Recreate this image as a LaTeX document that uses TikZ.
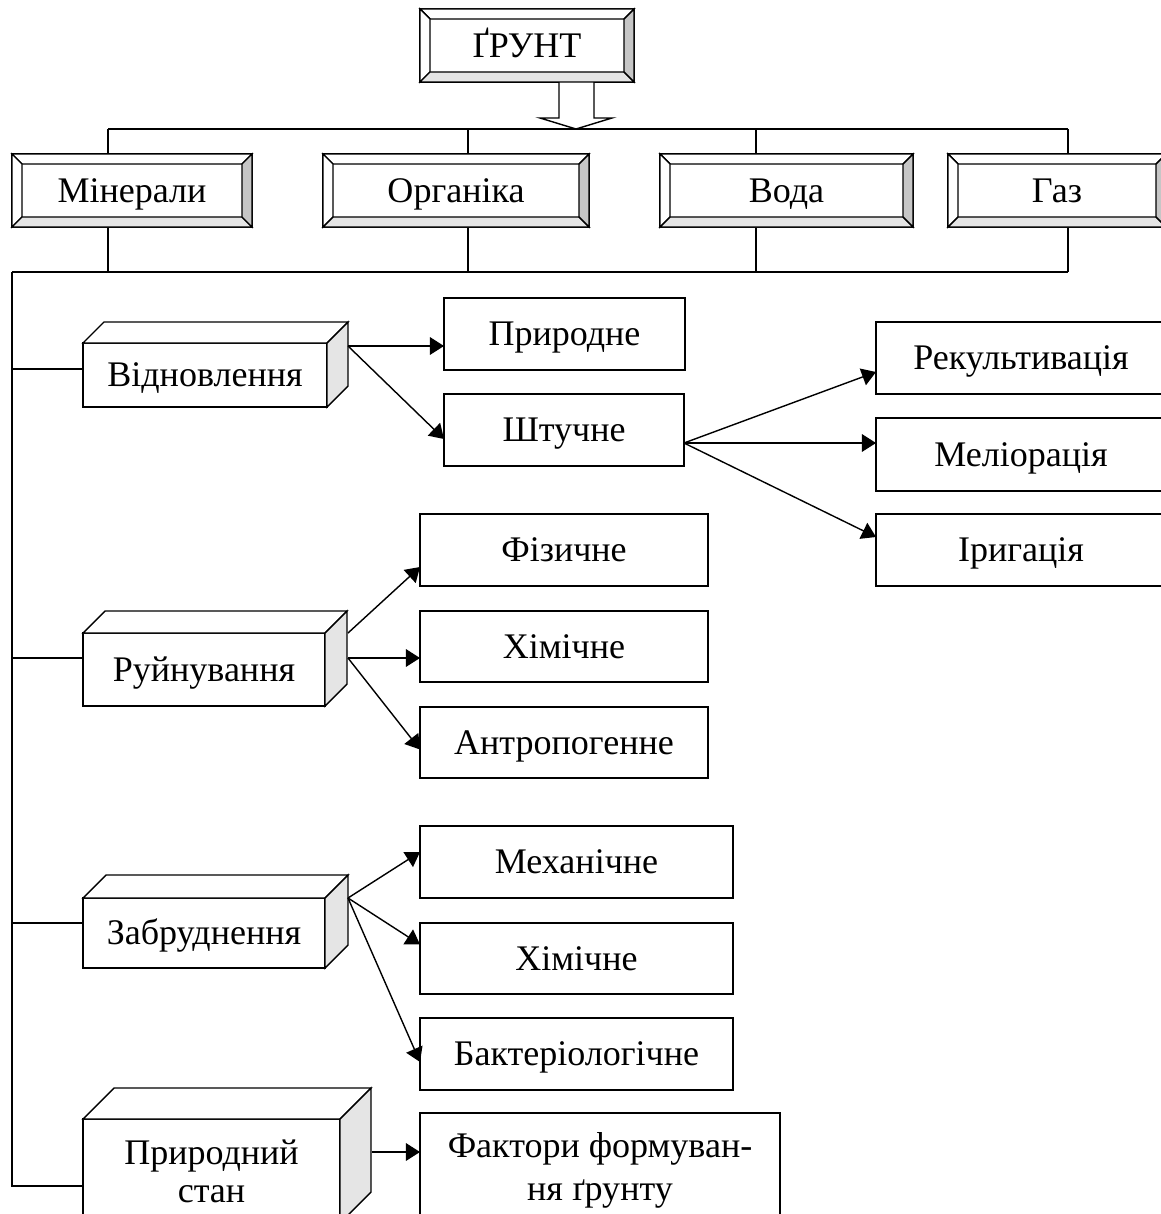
\documentclass[tikz,border=0pt]{standalone}
\usepackage{fontspec}
\setmainfont{Liberation Serif}
\usetikzlibrary{arrows.meta, calc}

\begin{document}
\begin{tikzpicture}[
    x=0.2mm, y=-0.2mm,
    line width=0.8pt,
    every node/.style={font=\fontsize{20.5}{23}\selectfont, inner sep=0pt, outer sep=0pt, align=center},
    box/.style 2 args={draw, fill=white, minimum width=#1*0.2mm, minimum height=#2*0.2mm},
    line1/.style={text height=13.5pt, text depth=0pt},
    arr/.style={-{Triangle[length=8pt, width=10pt]}}
]
\useasboundingbox (0,0) rectangle (1161,1214);
\clip (0,0) rectangle (1161,1214);

% Top: soil and its components (bevelled boxes)
\node[box={214}{73}, line1] (grunt) at (527,45.5) {ҐРУНТ};
\node[box={240}{73}, line1] (min) at (132,190.5) {Мінерали};
\node[box={266}{73}, line1] (org) at (456,190.5) {Органіка};
\node[box={253}{73}, line1] (voda) at (786.5,190.5) {Вода};
\node[box={218}{73}, line1] (gaz) at (1057,190.5) {Газ};

% Processes (3D blocks)
\node[box={244}{64}, line1] (vidn) at (205,375) {Відновлення};
\node[box={242}{73}, line1] (ruin) at (204,669.5) {Руйнування};
\node[box={242}{70}, line1] (zabr) at (204,933) {Забруднення};
\node[box={257}{104}, font=\fontsize{20.5}{21.5}\selectfont] (pryrst) at (211.5,1171) {Природний\\стан};

% Restoration
\node[box={241}{72}, line1] (pryr) at (564.5,334) {Природне};
\node[box={240}{72}, line1] (shtuch) at (564,430) {Штучне};
\node[box={290}{72}, line1] (rekult) at (1021,358) {Рекультивація};
\node[box={290}{73}, line1] (melior) at (1021,454.5) {Меліорація};
\node[box={290}{72}, line1] (iryg) at (1021,550) {Іригація};

% Destruction
\node[box={288}{72}, line1] (fiz) at (564,550) {Фізичне};
\node[box={288}{71}, line1] (khim1) at (564,646.5) {Хімічне};
\node[box={288}{71}, line1] (antrop) at (564,742.5) {Антропогенне};

% Pollution
\node[box={313}{72}, line1] (mekh) at (576.5,862) {Механічне};
\node[box={313}{71}, line1] (khim2) at (576.5,958.5) {Хімічне};
\node[box={313}{72}, line1] (bakt) at (576.5,1054) {Бактеріологічне};

% Natural state
\node[box={360}{114}, font=\fontsize{20.5}{24.5}\selectfont] (faktor) at (600,1170) {Фактори формуван-\\ня ґрунту};

% Buses
\coordinate (top1) at (108,129);
\coordinate (top2) at (468,129);
\coordinate (top3) at (756,129);
\coordinate (top4) at (1068,129);
\coordinate (bot) at (12,272);
\coordinate (corner) at (12,1186);
\draw (top1) -- (top4);
\foreach \t/\n in {top1/min, top2/org, top3/voda, top4/gaz}
    { \draw (\t) -- (\t |- \n.north);
      \draw (\t |- \n.south) -- (\t |- bot); }
\draw (bot) -- (top4 |- bot);
\draw (bot) -- (corner) -- (corner -| pryrst.west);

% Branches off the trunk
\coordinate (j1) at (12,369);
\coordinate (j2) at (12,658);
\coordinate (j3) at (12,923);
\draw (j1) -- (j1 -| vidn.west);
\draw (j2) -- (j2 -| ruin.west);
\draw (j3) -- (j3 -| zabr.west);

% Hollow arrow
\coordinate (tip) at (576,129);
\draw[fill=white] ($(tip |- grunt.south)+(-17,0)$) -- ++(0,36) -- ++(-19,0) -- (tip)
    -- ++(36,-11) -- ++(-18,0) -- ++(0,-36);

% Bevels
\foreach \n in {grunt,min,org,voda,gaz} {
  \draw[fill=white] (\n.north west) -- (\n.north east) -- ($(\n.north east)+(-10,10)$) -- ($(\n.north west)+(10,10)$) -- cycle;
  \draw[fill=white] (\n.north west) -- ($(\n.north west)+(10,10)$) -- ($(\n.south west)+(10,-10)$) -- (\n.south west) -- cycle;
  \draw[fill=gray!20] (\n.south west) -- (\n.south east) -- ($(\n.south east)+(-10,-10)$) -- ($(\n.south west)+(10,-10)$) -- cycle;
  \draw[fill=gray!45] (\n.north east) -- (\n.south east) -- ($(\n.south east)+(-10,-10)$) -- ($(\n.north east)+(-10,10)$) -- cycle;
}

% 3D faces
\foreach \n/\d in {vidn/21, ruin/22, zabr/23, pryrst/31} {
  \draw[fill=white] (\n.north west) -- ++(\d,-\d) -- ($(\n.north east)+(\d,-\d)$) -- (\n.north east) -- cycle;
  \draw[fill=gray!20] (\n.north east) -- ++(\d,-\d) -- ($(\n.south east)+(\d,-\d)$) -- (\n.south east) -- cycle;
}

% Arrows
\coordinate (o1) at (348,346);
\draw[arr] (o1) -- (o1 -| pryr.west);
\draw[arr] (o1) -- ($(shtuch.west)+(0,9)$);
\coordinate (o5) at ($(shtuch.east)+(0,13)$);
\draw[arr] (o5) -- ($(rekult.west)+(0,14)$);
\draw[arr] (o5) -- (o5 -| melior.west);
\draw[arr] (o5) -- ($(iryg.west)+(0,-13)$);

\coordinate (o2a) at (348,633);
\coordinate (o2) at (348,658);
\draw[arr] (o2a) -- ($(fiz.west)+(0,17)$);
\draw[arr] (o2) -- (o2 -| khim1.west);
\draw[arr] (o2) -- ($(antrop.west)+(0,7)$);

\coordinate (o3) at (348,898);
\draw[arr] (o3) -- ($(mekh.west)+(0,-10)$);
\draw[arr] (o3) -- ($(khim2.west)+(0,-14)$);
\draw[arr] (o3) -- ($(bakt.west)+(0,8)$);

\coordinate (o4) at (372,1152);
\draw[arr] (o4) -- (o4 -| faktor.west);
\end{tikzpicture}
\end{document}
